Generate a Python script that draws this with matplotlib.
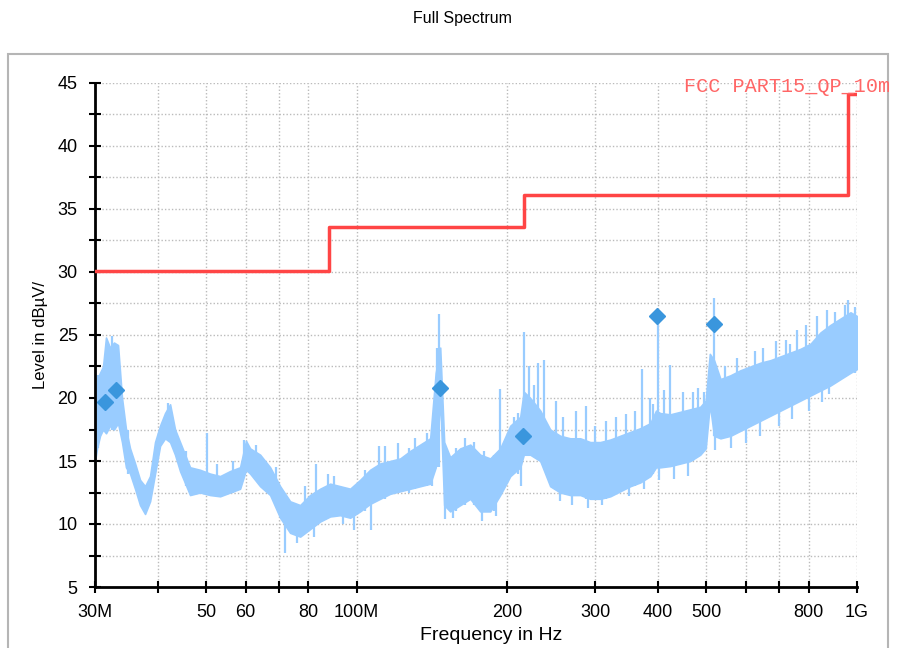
import numpy as np
import matplotlib
matplotlib.use("Agg")
import matplotlib.pyplot as plt
from matplotlib.patches import Rectangle
from matplotlib.ticker import FixedLocator, NullLocator

plt.rcParams['font.family'] = ['Liberation Sans', 'DejaVu Sans']

# spectrum envelope (MHz, dBuV/m)
freq = [30.0, 30.28, 30.70, 31.13, 31.56, 32.14, 32.74, 33.35, 33.97, 34.60,
        35.25, 36.07, 36.91, 37.77, 38.65, 39.55, 40.47, 41.41, 42.38, 43.36,
        44.37, 46.46, 48.65, 50.94, 53.35, 55.86, 58.49, 60.1, 61.25, 64.14,
        67.16, 70.32, 73.64, 77.11, 80.74, 84.55, 88.53, 92.70, 97.07, 101.6,
        106.4, 111.4, 116.7, 122.2, 128.0, 134.0, 140.3, 143.9, 146.9, 149.6,
        153.8, 161.1, 168.7, 176.6, 184.9, 193.6, 202.8, 212.3, 215.8, 222.3,
        232.8, 243.7, 255.2, 267.2, 279.8, 293.0, 306.8, 321.3, 336.4, 352.2,
        368.8, 386.2, 396.6, 404.4, 423.4, 443.4, 464.2, 486.1, 498.4, 508.0,
        518.0, 533.5, 558.6, 584.9, 612.5, 641.3, 671.5, 703.2, 736.3, 771.0,
        807.3, 845.3, 885.2, 926.8, 970.5, 1000.0]
level_lo = [15.0, 16.0, 17.0, 17.5, 17.2, 17.8, 17.5, 18.0, 16.5, 14.5,
            14.0, 12.8, 11.5, 10.8, 11.8, 14.0, 16.2, 16.8, 16.5, 15.5,
            14.2, 12.3, 12.5, 12.3, 12.2, 12.5, 12.8, 14.3, 14.0, 13.0,
            12.3, 10.5, 9.3, 9.0, 9.6, 10.2, 10.6, 10.7, 10.5, 11.0,
            11.6, 12.0, 12.4, 12.6, 12.8, 13.0, 13.2, 14.5, 20.0, 11.5,
            11.0, 11.5, 12.0, 11.0, 11.0, 12.3, 13.8, 14.5, 15.5, 15.5,
            15.0, 13.0, 12.5, 12.3, 12.3, 12.0, 12.0, 12.2, 12.6, 13.0,
            13.3, 13.8, 14.5, 14.5, 14.6, 14.8, 15.0, 15.5, 16.0, 19.5,
            17.0, 16.8, 17.0, 17.4, 17.8, 18.2, 18.6, 19.0, 19.4, 19.8,
            20.2, 20.6, 21.0, 21.5, 22.0, 22.3]
level_hi = [19.0, 21.5, 22.0, 22.5, 24.8, 24.0, 24.4, 24.2, 20.0, 17.5,
            16.0, 14.8, 13.5, 13.0, 13.8, 16.5, 17.8, 18.8, 19.5, 17.5,
            16.5, 14.5, 14.3, 14.0, 13.8, 14.2, 14.5, 16.6, 16.0, 15.5,
            14.5, 13.0, 11.8, 11.5, 12.3, 12.8, 13.2, 13.0, 12.8, 13.5,
            14.3, 14.8, 15.0, 15.2, 15.8, 16.3, 16.8, 22.0, 24.0, 16.5,
            15.3, 16.0, 16.3, 15.5, 15.2, 16.0, 17.8, 18.5, 20.5, 20.0,
            19.0, 17.5, 17.0, 16.8, 16.8, 16.5, 16.5, 16.7, 17.0, 17.3,
            17.6, 18.0, 19.0, 18.8, 18.7, 18.9, 19.1, 19.3, 19.8, 23.5,
            23.0, 21.5, 21.8, 22.2, 22.5, 22.8, 23.0, 23.3, 23.6, 23.9,
            24.3, 25.2, 25.8, 26.3, 26.8, 26.5]

# narrow spikes and dips around the envelope (MHz, bottom dB, top dB)
spike_freq = [30.4, 32.5, 35.0, 41.9, 45.5, 50.3, 52.5, 56.5, 59.5, 63.0,
              69.0, 72.0, 76.0, 79.0, 82.0, 83.0, 87.5, 90.0, 94.0, 99.0,
              104.0, 107.0, 111.0, 114.0, 121.0, 127.0, 131.0, 138.0, 141.5, 144.5,
              146.0, 150.5, 156.0, 158.0, 165.0, 172.0, 178.0, 180.0, 188.0, 189.5,
              193.6, 198.0, 206.0, 210.0, 213.0, 216.5, 221.0, 226.0, 230.0, 237.0,
              250.0, 255.0, 258.0, 270.0, 275.0, 287.0, 290.0, 300.0, 310.0, 315.0,
              330.0, 345.0, 350.0, 360.0, 372.0, 375.0, 385.0, 392.0, 400.0, 402.0,
              412.0, 423.0, 430.0, 450.0, 460.0, 470.0, 480.0, 495.0, 518.0, 521.0,
              545.0, 560.0, 575.0, 600.0, 625.0, 640.0, 650.0, 690.0, 700.0, 720.0,
              736.0, 740.0, 760.0, 790.0, 800.0, 830.0, 850.0, 870.0, 880.0, 905.0,
              945.0, 960.0, 990.0]
spike_lo = [16.0, 17.5, 14.0, 16.8, 13.0, 12.5, 12.5, 12.5, 14.0, 13.5,
            11.5, 7.7, 8.5, 9.5, 9.0, 10.5, 10.5, 10.8, 10.0, 9.5,
            11.0, 9.5, 12.5, 12.0, 12.5, 12.5, 12.8, 13.0, 13.0, 14.5,
            14.5, 10.4, 10.5, 11.0, 11.5, 11.5, 10.2, 11.0, 11.0, 10.6,
            12.3, 13.3, 14.0, 14.0, 13.0, 15.5, 15.5, 15.5, 15.5, 15.0,
            13.0, 11.8, 13.0, 11.5, 12.5, 12.0, 11.3, 12.0, 11.5, 12.0,
            12.5, 13.0, 12.2, 13.0, 13.3, 12.8, 14.0, 14.0, 14.5, 13.5,
            14.5, 14.6, 13.6, 15.0, 13.8, 15.0, 15.3, 15.8, 17.0, 15.9,
            17.0, 16.0, 17.4, 16.4, 18.2, 17.0, 18.5, 19.0, 17.8, 19.3,
            19.4, 18.3, 20.0, 20.0, 19.0, 20.8, 19.7, 21.0, 20.3, 21.2,
            21.7, 22.0, 22.0]
spike_top = [21.8, 24.9, 17.5, 19.6, 15.8, 17.2, 14.8, 15.0, 16.7, 16.3,
             14.5, 11.0, 11.0, 13.0, 12.0, 14.8, 14.0, 13.8, 12.5, 12.5,
             14.3, 13.0, 16.2, 16.2, 16.4, 16.0, 16.8, 17.2, 17.0, 24.0,
             26.7, 14.0, 14.0, 16.0, 16.8, 16.5, 14.0, 15.8, 15.5, 14.0,
             20.7, 16.0, 18.5, 18.8, 17.0, 25.2, 22.5, 21.0, 22.8, 23.0,
             19.8, 16.0, 18.5, 16.0, 19.0, 19.4, 15.5, 17.8, 15.5, 18.2,
             18.5, 18.7, 16.0, 19.0, 22.3, 16.5, 20.0, 19.5, 26.5, 17.5,
             20.6, 22.6, 17.5, 20.5, 18.0, 20.5, 20.8, 20.5, 27.9, 20.0,
             22.5, 20.0, 23.2, 20.5, 23.7, 21.0, 24.0, 24.5, 21.5, 24.6,
             24.3, 22.0, 25.4, 25.8, 23.0, 26.5, 24.0, 27.0, 24.5, 26.8,
             27.4, 27.8, 27.2]

# final peaks
peak_freq = [31.4, 33.0, 146.7, 215.0, 397.6, 517.5]
peak_level = [19.7, 20.6, 20.8, 17.0, 26.5, 25.9]

# limit line FCC Part 15 QP 10 m
limit_freq = [30, 88, 88, 216, 216, 960, 960, 1000]
limit_level = [30.1, 30.1, 33.6, 33.6, 36.1, 36.1, 44.1, 44.1]

xticks = [30, 40, 50, 60, 70, 80, 100, 200, 300, 400, 500, 600, 700, 800, 1000]
xlabels = ['30M', '', '50', '60', '', '80', '100M', '200', '300', '400', '500',
           '', '', '800', '1G']

fig = plt.figure(figsize=(9.09, 6.48), dpi=100)
ax = fig.add_axes([95/909, 61/648, 762/909, 504/648])

spec_c = '#99ccff'
ax.fill_between(freq, level_lo, level_hi, color=spec_c, lw=1.2, zorder=2)
ax.vlines(spike_freq, spike_lo, spike_top, color=spec_c, lw=1.6, zorder=2)
ax.plot(limit_freq, limit_level, color='#ff4545', lw=2.5, zorder=3)
ax.plot(peak_freq, peak_level, 'D', color='#3a96dd', ms=8.5, mec='#3a96dd', zorder=4)

ax.set_xscale('log')
ax.set_xlim(30, 1000)
ax.set_ylim(5, 45)
ax.xaxis.set_major_locator(FixedLocator(xticks))
ax.xaxis.set_minor_locator(NullLocator())
ax.set_xticklabels(xlabels)
ax.set_yticks(range(5, 46, 5))
ax.set_yticks(np.arange(7.5, 45, 5), minor=True)

ax.grid(True, which='both', color='#bbbbbb', linestyle=(0, (1, 1.5)), lw=1)
ax.set_axisbelow(True)
for s in ['top', 'right']:
    ax.spines[s].set_visible(False)
for s in ['left', 'bottom']:
    ax.spines[s].set_linewidth(2)
ax.tick_params(which='both', direction='inout', length=9, width=1.5,
               labelsize=13, pad=8)

ax.set_xlabel('Frequency in Hz', fontsize=14, va='center')
ax.xaxis.set_label_coords(0.52, -0.097)
ax.set_ylabel('Level in dBµV/', fontsize=12)
ax.yaxis.set_label_coords(-0.062, 0.5)

fig.text(684/909, 1 - 86/648, 'FCC PART15_QP_10m', color='#ff6666',
         fontsize=14.5, family='Liberation Mono', va='center', zorder=5)
fig.text(462/909, 1 - 18/648, 'Full Spectrum', ha='center', va='center',
         fontsize=11.5)

fig.patches.append(Rectangle((8/909, -0.02), 880/909, (648 - 54)/648 + 0.02,
                             transform=fig.transFigure, fill=False,
                             edgecolor='#b5b5b5', lw=1.5, zorder=1))

fig.savefig('out.png', dpi=100)
